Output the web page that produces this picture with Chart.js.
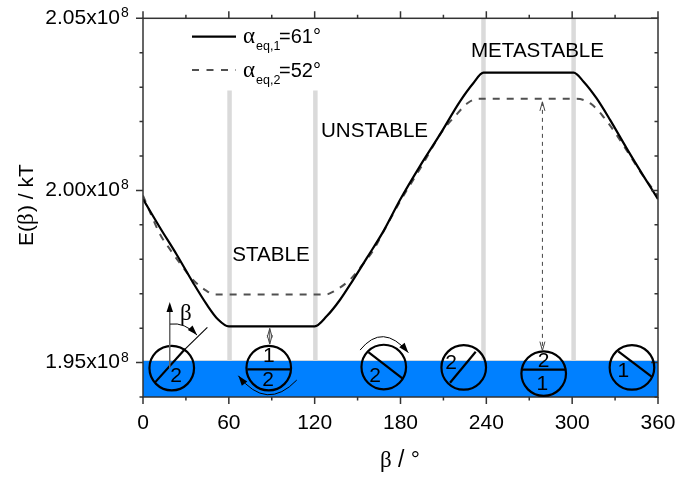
<!DOCTYPE html>
<html>
<head>
<meta charset="utf-8">
<title>E(beta)</title>
<script src="https://cdn.jsdelivr.net/npm/chart.js@4/dist/chart.umd.min.js"></script>
<style>
html, body { margin: 0; padding: 0; background: #fff; }
#wrap { width: 679px; height: 480px; }
</style>
</head>
<body>
<div id="wrap"><canvas id="chart" width="679" height="480"></canvas></div>
<script>
// values
var solidBeta = [0, 12, 23.5, 35, 44.5, 52.5, 60, 120, 128.5, 137.5, 147, 156.5, 168, 180, 193.5, 207.5, 221.5, 231, 238, 301, 308, 317, 326.5, 338, 350, 360];
var solidEnergy = [1.9975e8, 1.9891e8, 1.9814e8, 1.9732e8, 1.9669e8, 1.9625e8, 1.9605e8, 1.9605e8, 1.9635e8, 1.9681e8, 1.9741e8, 1.9804e8, 1.9881e8, 1.9975e8, 2.0070e8, 2.0162e8, 2.0258e8, 2.0312e8, 2.0342e8, 2.0342e8, 2.0316e8, 2.0268e8, 2.0205e8, 2.0123e8, 2.0041e8, 1.9975e8];
var dashBeta = [0, 12, 19, 27, 34, 44.5, 50, 128, 133, 145, 153, 161, 167, 180, 195, 209, 218, 227, 234, 303, 313, 322, 330, 336, 350, 360];
var dashEnergy = [1.9985e8, 1.9872e8, 1.9828e8, 1.9782e8, 1.9744e8, 1.9708e8, 1.9698e8, 1.9698e8, 1.9706e8, 1.9742e8, 1.9782e8, 1.9826e8, 1.9872e8, 1.9970e8, 2.0072e8, 2.0171e8, 2.0215e8, 2.0254e8, 2.0266e8, 2.0266e8, 2.0252e8, 2.0213e8, 2.0168e8, 2.0130e8, 2.0040e8, 1.9985e8];
var stableEdges = [60.5, 120.5];
var metaEdges = [238, 301];
var stableBarTop = 2.029e8;
var metaBarTop = 2.05e8;
var bandTop = 1.9506e8;
var betaMajor = [0, 60, 120, 180, 240, 300, 360];
var betaMinor = [30, 90, 150, 210, 270, 330];
var energyMajor = [1.95e8, 2.00e8, 2.05e8];
var energyMinor = [1.94e8, 1.96e8, 1.97e8, 1.98e8, 1.99e8, 2.01e8, 2.02e8, 2.03e8, 2.04e8];

var SANS = '"Liberation Sans", Arial, sans-serif';
var SERIF = '"Liberation Serif", "DejaVu Serif", serif';

function points(xs, ys) {
    return xs.map(function(x, i) { return { x: x, y: ys[i] }; });
}

function barSet(x, top) {
    return {
        data: [{ x: x, y: top }, { x: x, y: bandTop }],
        borderColor: '#dadada',
        borderWidth: 4.5,
        pointRadius: 0,
        order: 3
    };
}

var datasets = [
    {
        label: 'alpha eq,1 = 61',
        data: points(solidBeta, solidEnergy),
        borderColor: '#000',
        borderWidth: 2.2,
        cubicInterpolationMode: 'monotone',
        pointRadius: 0,
        order: 1
    },
    {
        label: 'alpha eq,2 = 52',
        data: points(dashBeta, dashEnergy),
        borderColor: '#505050',
        borderWidth: 2,
        borderDash: [7, 7],
        cubicInterpolationMode: 'monotone',
        pointRadius: 0,
        order: 2
    },
    barSet(stableEdges[0], stableBarTop),
    barSet(stableEdges[1], stableBarTop),
    barSet(metaEdges[0], metaBarTop),
    barSet(metaEdges[1], metaBarTop),
    {
        data: [{ x: 0, y: bandTop }, { x: 360, y: bandTop }],
        borderColor: '#cfd8e0',
        borderWidth: 1,
        backgroundColor: '#0080ff',
        fill: 'start',
        pointRadius: 0,
        order: 4
    }
];

// the rotors along the band, offsets are px from the circle centre
var rotors = [
    { beta: 20.1, energy: 1.9484e8, chord: [-16.7, 14.3, 13.3, -19], labels: [['2', 4.3, 8]] },
    { beta: 87.9, energy: 1.9484e8, chord: [-21.5, 1.3, 21.5, 1.3], labels: [['1', 0, -12], ['2', -0.7, 12]] },
    { beta: 168.3, energy: 1.9487e8, chord: [-15.4, -15, 18.6, 11.3], labels: [['2', -8.7, 9.6]] },
    { beta: 224.2, energy: 1.9486e8, chord: [-13.7, 15.3, 12, -15.7], labels: [['2', -12.7, -3.7]] },
    { beta: 280.1, energy: 1.9468e8, chord: [-21.7, -4, 22.3, -4], labels: [['2', 0, -12.3], ['1', -1.4, 10.7]] },
    { beta: 341.8, energy: 1.9486e8, chord: [-13.7, -16, 20.3, 9.7], labels: [['1', -8.7, 3.7]] }
];

function solidHead(ctx, x, y, angle, len, wid) {
    ctx.save();
    ctx.translate(x, y);
    ctx.rotate(angle);
    ctx.beginPath();
    ctx.moveTo(0, 0);
    ctx.lineTo(-len, -wid / 2);
    ctx.lineTo(-len, wid / 2);
    ctx.closePath();
    ctx.fillStyle = '#000';
    ctx.fill();
    ctx.restore();
}

function openHead(ctx, x, y, up) {
    var s = up ? 1 : -1;
    ctx.beginPath();
    ctx.moveTo(x - 2.5, y + s * 9);
    ctx.lineTo(x, y);
    ctx.lineTo(x + 2.5, y + s * 9);
    ctx.stroke();
}

function curveArrow(ctx, ox, oy, a, width, len, wid) {
    ctx.beginPath();
    ctx.moveTo(ox + a[0], oy + a[1]);
    ctx.quadraticCurveTo(ox + a[2], oy + a[3], ox + a[4], oy + a[5]);
    ctx.strokeStyle = '#000';
    ctx.lineWidth = width;
    ctx.stroke();
    solidHead(ctx, ox + a[4], oy + a[5], Math.atan2(a[5] - a[3], a[4] - a[2]), len, wid);
}

function text(ctx, str, x, y, font, align) {
    ctx.font = font;
    ctx.textAlign = align || 'left';
    ctx.fillText(str, x, y);
}

function legendRow(ctx, y, sub, value) {
    text(ctx, 'α', 243, y, '23px ' + SERIF);
    text(ctx, sub, 256, y + 7, '12.5px ' + SANS);
    text(ctx, value, 279, y, '20px ' + SANS);
}

// no room is kept for labels that stick out past the plot
function noMargins(scale) {
    scale.paddingLeft = 0;
    scale.paddingRight = 0;
    scale.paddingTop = 0;
    scale.paddingBottom = 0;
}

var annotations = {
    id: 'annotations',
    afterDatasetsDraw: function(chart) {
        var ctx = chart.ctx;
        var xs = chart.scales.x, ys = chart.scales.y;
        var area = chart.chartArea;
        ctx.save();
        ctx.fillStyle = '#000';
        ctx.textBaseline = 'alphabetic';

        // frame and ticks, all four sides
        ctx.strokeStyle = '#333';
        ctx.lineWidth = 1.5;
        ctx.strokeRect(area.left, area.top, area.right - area.left, area.bottom - area.top);
        function xTick(v, len) {
            var p = xs.getPixelForValue(v);
            ctx.beginPath();
            ctx.moveTo(p, area.bottom); ctx.lineTo(p, area.bottom + len);
            ctx.moveTo(p, area.top); ctx.lineTo(p, area.top - len);
            ctx.stroke();
        }
        function yTick(v, len) {
            var p = ys.getPixelForValue(v);
            ctx.beginPath();
            ctx.moveTo(area.left, p); ctx.lineTo(area.left - len, p);
            ctx.moveTo(area.right, p); ctx.lineTo(area.right - len, p);
            ctx.stroke();
        }
        betaMajor.forEach(function(v) { xTick(v, 7); });
        betaMinor.forEach(function(v) { xTick(v, 3.5); });
        energyMajor.forEach(function(v) { yTick(v, 7); });
        energyMinor.forEach(function(v) { yTick(v, 3.5); });

        // exponent of the energy tick labels
        energyMajor.forEach(function(v) {
            text(ctx, '8', 121, ys.getPixelForValue(v) - 1, '14px ' + SANS);
        });

        // axis titles, beta is in a serif face
        text(ctx, 'β', 380, 467, '23px ' + SERIF);
        text(ctx, '/ °', 398, 467, '23px ' + SANS);
        ctx.save();
        ctx.translate(33, 246);
        ctx.rotate(-Math.PI / 2);
        text(ctx, 'E(', 0, 0, '21px ' + SANS);
        text(ctx, 'β', 21, 0, '23px ' + SERIF);
        text(ctx, ') / kT', 34, 0, '21px ' + SANS);
        ctx.restore();

        // legend
        ctx.strokeStyle = '#000';
        ctx.lineWidth = 2.2;
        ctx.beginPath(); ctx.moveTo(192, 36.7); ctx.lineTo(236, 36.7); ctx.stroke();
        ctx.strokeStyle = '#505050';
        ctx.lineWidth = 2;
        ctx.setLineDash([7, 7.5]);
        ctx.beginPath(); ctx.moveTo(192, 70); ctx.lineTo(236, 70); ctx.stroke();
        ctx.setLineDash([]);
        legendRow(ctx, 43, 'eq,1', '=61°');
        legendRow(ctx, 77, 'eq,2', '=52°');

        // state names
        text(ctx, 'STABLE', 271, 261, '20.6px ' + SANS, 'center');
        text(ctx, 'UNSTABLE', 374.5, 137, '20.6px ' + SANS, 'center');
        text(ctx, 'METASTABLE', 537.5, 57, '20.6px ' + SANS, 'center');

        // rotors
        rotors.forEach(function(r) {
            var cx = xs.getPixelForValue(r.beta), cy = ys.getPixelForValue(r.energy);
            ctx.strokeStyle = '#000';
            ctx.lineWidth = 2.2;
            ctx.beginPath();
            ctx.arc(cx, cy, 22.3, 0, Math.PI * 2);
            ctx.stroke();
            ctx.beginPath();
            ctx.moveTo(cx + r.chord[0], cy + r.chord[1]);
            ctx.lineTo(cx + r.chord[2], cy + r.chord[3]);
            ctx.stroke();
            ctx.textBaseline = 'middle';
            r.labels.forEach(function(l) {
                text(ctx, l[0], cx + l[1], cy + l[2], '21px ' + SANS, 'center');
            });
            ctx.textBaseline = 'alphabetic';
        });

        // angle sketch on the first rotor
        var ax = xs.getPixelForValue(rotors[0].beta), ay = ys.getPixelForValue(rotors[0].energy);
        ctx.strokeStyle = '#666';
        ctx.lineWidth = 1.5;
        ctx.beginPath(); ctx.moveTo(ax - 2, ay); ctx.lineTo(ax - 2, ay - 58); ctx.stroke();
        solidHead(ctx, ax - 2, ay - 66, -Math.PI / 2, 10, 6.5);
        ctx.strokeStyle = '#000';
        ctx.lineWidth = 1.1;
        ctx.beginPath(); ctx.moveTo(ax + 13.3, ay - 19); ctx.lineTo(ax + 35.6, ay - 40.7); ctx.stroke();
        curveArrow(ctx, ax, ay, [-1.7, -44, 13, -46, 25.3, -33], 1, 10, 6.5);
        text(ctx, 'β', 180, 320, '23px ' + SERIF);

        // rotation arrows
        var bx = xs.getPixelForValue(rotors[1].beta), by = ys.getPixelForValue(rotors[1].energy);
        curveArrow(ctx, bx, by, [28, 12, -2, 43.4, -30.4, 7.7], 1, 10, 7);
        var cx = xs.getPixelForValue(rotors[2].beta), cy = ys.getPixelForValue(rotors[2].energy);
        curveArrow(ctx, cx, cy, [-23.7, -17, -1, -45, 24.6, -14.4], 1, 10, 7);

        // energy gaps
        var g1 = xs.getPixelForValue(88.6);
        var g1a = ys.getPixelForValue(solidEnergy[6]) + 2, g1b = ys.getPixelForValue(1.9484e8) - 24;
        ctx.strokeStyle = '#444';
        ctx.lineWidth = 1;
        ctx.beginPath(); ctx.moveTo(g1, g1a); ctx.lineTo(g1, g1b); ctx.stroke();
        openHead(ctx, g1, g1a, true);
        openHead(ctx, g1, g1b, false);
        var g2 = xs.getPixelForValue(279.2);
        var g2a = ys.getPixelForValue(dashEnergy[18]) + 3, g2b = ys.getPixelForValue(1.9468e8) - 23;
        ctx.setLineDash([4, 4]);
        ctx.beginPath(); ctx.moveTo(g2, g2a); ctx.lineTo(g2, g2b); ctx.stroke();
        ctx.setLineDash([]);
        openHead(ctx, g2, g2a, true);
        openHead(ctx, g2, g2b, false);
        ctx.restore();
    }
};

new Chart(document.getElementById('chart'), {
    type: 'line',
    data: { datasets: datasets },
    plugins: [annotations],
    options: {
        responsive: false,
        animation: false,
        layout: { padding: { top: 18.3, right: 21, left: 0, bottom: 0 } },
        plugins: { legend: { display: false }, tooltip: { enabled: false }, title: { display: false } },
        scales: {
            x: {
                type: 'linear',
                min: 0,
                max: 360,
                grid: { display: false },
                border: { display: false },
                afterBuildTicks: function(scale) {
                    scale.ticks = betaMajor.map(function(v) { return { value: v }; });
                },
                afterFit: function(scale) { scale.height = 83; noMargins(scale); },
                ticks: {
                    autoSkip: false,
                    maxRotation: 0,
                    padding: 6,
                    color: '#000',
                    font: { family: SANS, size: 21 }
                }
            },
            y: {
                type: 'linear',
                min: 1.94e8,
                max: 2.05e8,
                grid: { display: false },
                border: { display: false },
                afterBuildTicks: function(scale) {
                    scale.ticks = energyMajor.map(function(v) { return { value: v }; });
                },
                afterFit: function(scale) { scale.width = 143; noMargins(scale); },
                ticks: {
                    autoSkip: false,
                    padding: 15,
                    color: '#000',
                    font: { family: SANS, size: 21 },
                    callback: function(v) { return (v / 1e8).toFixed(2) + 'x10'; }
                }
            }
        }
    }
});
</script>
</body>
</html>
